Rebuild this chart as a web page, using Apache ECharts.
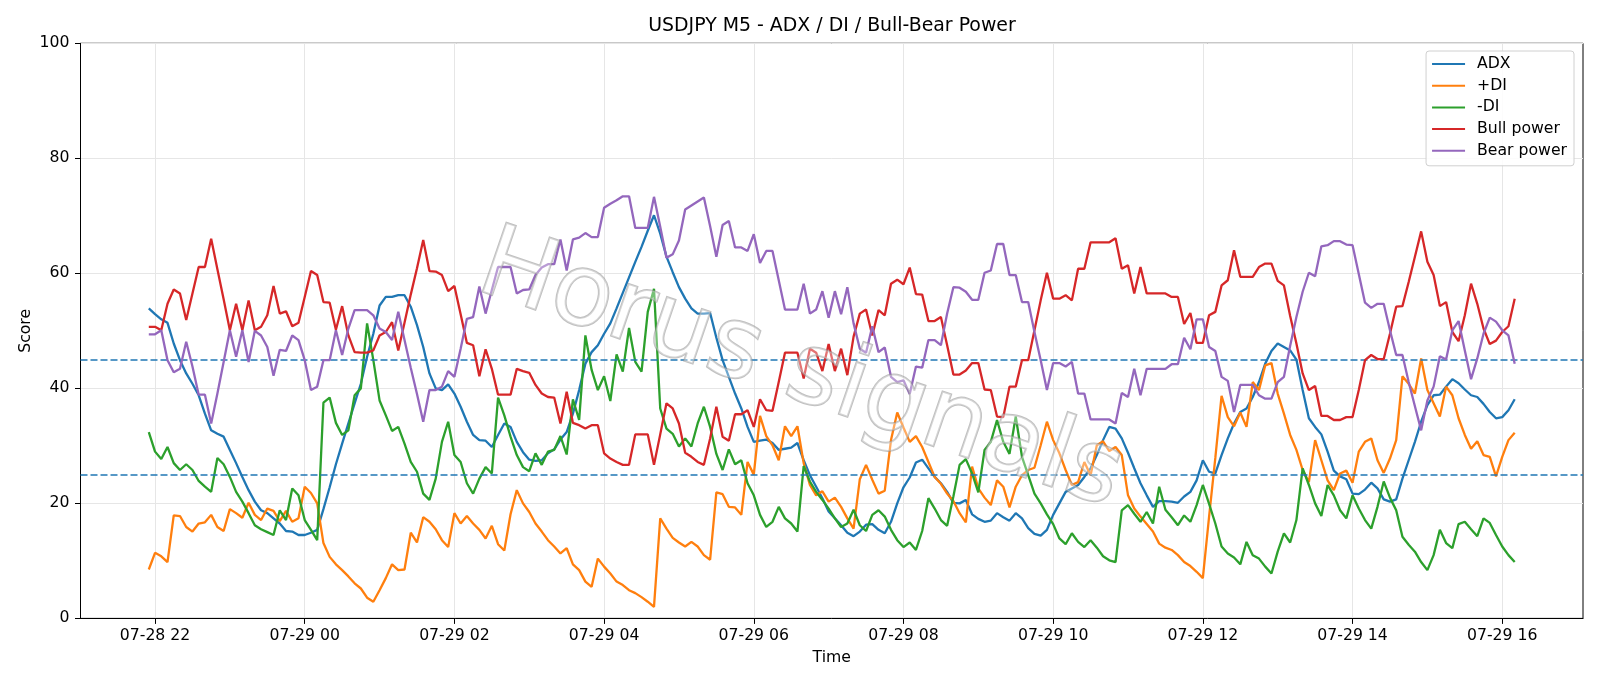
<!DOCTYPE html>
<html>
<head>
<meta charset="utf-8">
<script src="https://cdn.jsdelivr.net/npm/echarts@6/dist/echarts.min.js"></script>
<style>
  html, body { margin: 0; padding: 0; background: #fff; }
  #chart { width: 1600px; height: 686px; }
</style>
</head>
<body>
<div id="chart"></div>
<script>
// bars are M5, index 0 = 07-28 21:55
const seriesNames = ['ADX', '+DI', '-DI', 'Bull power', 'Bear power'];
const seriesColors = ['#1f77b4', '#ff7f0e', '#2ca02c', '#d62728', '#9467bd'];

const adx = [
  53.9, 52.9, 52.0, 51.4, 47.8, 44.9, 42.6, 40.8, 38.8, 35.6,
  32.7, 32.1, 31.6, 29.3, 27.0, 24.6, 22.3, 20.3, 18.8, 18.3,
  17.4, 16.5, 15.2, 15.1, 14.5, 14.5, 14.9, 15.4, 19.0, 22.8,
  26.8, 30.4, 33.9, 37.4, 40.8, 45.5, 49.5, 54.4, 55.9, 55.9,
  56.2, 56.2, 54.2, 51.0, 47.2, 42.6, 40.0, 39.7, 40.7, 39.1,
  36.8, 34.2, 31.9, 31.0, 30.9, 29.8, 31.9, 33.9, 33.3, 30.7,
  28.9, 27.6, 27.4, 27.5, 28.7, 29.4, 31.1, 32.4, 35.6, 39.7,
  44.3, 46.3, 47.5, 49.5, 51.3, 53.9, 56.6, 59.3, 62.0, 64.6,
  67.4, 70.1, 66.9, 62.9, 60.2, 57.6, 55.6, 53.9, 53.0, 53.0,
  53.1, 48.8, 44.9, 42.0, 39.1, 36.5, 33.3, 30.7, 30.9, 31.1,
  30.5, 29.3, 29.5, 29.7, 30.5, 27.5, 24.9, 22.9, 20.9, 18.6,
  17.4, 16.2, 14.9, 14.3, 15.1, 16.3, 16.4, 15.4, 14.8, 16.8,
  20.0, 22.8, 24.5, 27.1, 27.6, 26.1, 24.6, 23.5, 22.0, 20.1,
  20.0, 20.6, 18.1, 17.3, 16.8, 17.0, 18.3, 17.6, 17.0, 18.3,
  17.4, 15.7, 14.7, 14.4, 15.4, 18.0, 20.0, 22.0, 22.6, 23.2,
  24.6, 26.1, 28.4, 31.0, 33.3, 33.0, 31.3, 28.8, 26.1, 23.5,
  21.4, 19.4, 20.4, 20.4, 20.3, 20.1, 21.2, 22.0, 24.0, 27.5,
  25.5, 25.2, 28.4, 31.3, 33.9, 35.9, 36.5, 38.5, 41.1, 44.3,
  46.5, 47.8, 47.2, 46.6, 45.0, 39.7, 34.8, 33.3, 32.0, 29.0,
  25.7, 24.7, 24.2, 21.7, 21.6, 22.4, 23.6, 22.6, 20.7, 20.3,
  20.7, 24.3, 27.5, 30.7, 34.2, 37.1, 38.8, 38.9, 40.3, 41.6,
  40.9, 39.8, 38.8, 38.5, 37.3, 35.9, 34.8, 35.0, 36.2, 38.1
];

const plusDi = [
  8.5, 11.4, 10.8, 9.8, 17.9, 17.8, 15.9, 15.1, 16.5, 16.7,
  18.0, 15.9, 15.2, 19.0, 18.3, 17.5, 20.1, 18.0, 17.1, 19.1,
  18.7, 16.9, 18.7, 16.8, 17.4, 22.9, 21.8, 20.0, 13.1, 10.7,
  9.4, 8.4, 7.3, 6.1, 5.2, 3.6, 2.9, 4.9, 7.0, 9.4,
  8.4, 8.5, 14.9, 13.2, 17.6, 16.8, 15.5, 13.6, 12.4, 18.3,
  16.5, 17.8, 16.5, 15.4, 13.9, 16.1, 12.9, 11.8, 18.1, 22.3,
  20.0, 18.5, 16.5, 15.1, 13.6, 12.5, 11.3, 12.2, 9.4, 8.4,
  6.4, 5.5, 10.4, 9.0, 7.8, 6.4, 5.8, 4.9, 4.4, 3.7,
  2.9, 2.0, 17.4, 15.6, 14.0, 13.2, 12.5, 13.3, 12.5, 11.0,
  10.2, 21.9, 21.6, 19.4, 19.3, 18.0, 27.2, 25.0, 35.2, 31.7,
  30.1, 27.5, 33.4, 31.7, 33.4, 27.0, 23.2, 21.4, 22.1, 20.3,
  21.0, 19.4, 17.4, 15.6, 24.2, 26.7, 24.1, 21.7, 22.2, 31.0,
  35.8, 33.2, 30.7, 31.7, 29.8, 27.2, 24.6, 23.4, 21.7, 20.4,
  18.3, 16.7, 26.4, 22.6, 21.0, 19.7, 24.0, 22.9, 19.3, 22.9,
  24.9, 25.8, 26.2, 30.1, 34.2, 31.0, 28.7, 25.8, 23.2, 23.7,
  27.2, 24.9, 30.1, 30.8, 29.1, 29.8, 28.4, 21.4, 19.1, 17.7,
  16.4, 15.1, 13.0, 12.3, 11.9, 11.0, 9.8, 9.1, 8.1, 7.0,
  17.7, 27.9, 38.7, 35.0, 33.4, 35.8, 33.3, 41.1, 39.7, 44.0,
  44.4, 39.1, 35.6, 31.9, 29.3, 25.8, 23.7, 31.0, 27.5, 24.0,
  22.3, 25.2, 25.7, 23.6, 29.0, 30.7, 31.3, 27.5, 25.3, 27.8,
  31.0, 42.1, 40.8, 39.1, 45.2, 39.7, 37.4, 35.1, 40.3, 38.8,
  34.8, 31.9, 29.5, 30.8, 28.4, 28.1, 24.7, 28.1, 31.0, 32.3
];

const minusDi = [
  32.4, 29.0, 27.7, 29.8, 27.0, 25.8, 26.8, 25.8, 23.9, 22.9,
  22.0, 27.9, 26.8, 24.6, 22.0, 20.3, 18.3, 16.2, 15.5, 15.0,
  14.5, 18.8, 17.1, 22.6, 21.4, 17.1, 15.4, 13.6, 37.5, 38.4,
  34.0, 31.9, 32.7, 38.8, 40.0, 51.3, 44.9, 37.9, 35.3, 32.6,
  33.3, 30.4, 27.2, 25.5, 21.7, 20.6, 24.3, 30.7, 34.2, 28.4,
  27.2, 23.5, 21.7, 24.3, 26.3, 25.2, 38.4, 35.3, 31.6, 28.4,
  26.3, 25.6, 28.7, 26.7, 29.0, 29.3, 31.7, 28.5, 38.1, 34.5,
  49.2, 43.2, 39.7, 42.1, 37.8, 45.9, 42.9, 50.5, 44.6, 42.9,
  53.3, 57.3, 36.5, 33.0, 32.1, 29.9, 31.3, 29.9, 33.9, 36.8,
  33.3, 28.6, 25.8, 29.4, 26.8, 27.5, 23.5, 21.4, 18.0, 15.9,
  16.8, 19.4, 17.4, 16.5, 15.1, 26.5, 23.8, 22.0, 20.6, 19.1,
  17.4, 15.9, 16.5, 18.9, 16.2, 15.2, 18.0, 18.8, 17.7, 15.4,
  13.6, 12.4, 13.2, 11.9, 15.2, 20.9, 19.1, 17.1, 16.1, 21.2,
  26.7, 27.7, 25.2, 21.9, 29.3, 30.7, 34.5, 30.7, 28.6, 35.1,
  28.1, 24.9, 21.7, 20.0, 18.1, 16.4, 13.9, 12.9, 14.8, 13.3,
  12.4, 13.6, 12.3, 10.8, 10.1, 9.8, 18.8, 19.7, 18.2, 16.8,
  18.5, 16.5, 22.9, 18.9, 17.6, 16.2, 17.9, 16.8, 19.7, 23.2,
  19.9, 16.5, 12.5, 11.3, 10.6, 9.4, 13.3, 11.0, 10.4, 9.0,
  7.8, 11.6, 14.8, 13.2, 17.1, 26.1, 23.2, 20.0, 17.8, 23.2,
  21.4, 18.8, 17.4, 21.4, 19.1, 17.1, 15.6, 19.4, 23.8, 21.0,
  18.8, 14.2, 12.8, 11.6, 9.8, 8.4, 11.0, 15.4, 13.1, 12.2,
  16.4, 16.8, 15.5, 14.3, 17.4, 16.6, 14.5, 12.5, 11.0, 9.8
];

const bullPower = [
  50.7, 50.7, 50.1, 54.7, 57.2, 56.5, 51.9, 56.5, 61.1, 61.1,
  66.0, 60.7, 55.5, 50.1, 54.7, 50.1, 55.3, 50.1, 50.7, 52.7,
  57.8, 53.0, 53.4, 50.8, 51.4, 55.9, 60.4, 59.7, 55.0, 54.9,
  50.2, 54.3, 49.2, 46.3, 46.2, 46.2, 46.6, 49.2, 49.8, 51.5,
  46.6, 51.4, 56.3, 60.9, 65.8, 60.4, 60.3, 59.7, 56.9, 57.8,
  52.9, 47.9, 47.5, 42.1, 46.8, 43.4, 38.9, 38.9, 38.9, 43.4,
  43.0, 42.7, 40.6, 39.1, 38.5, 38.4, 33.9, 39.4, 34.0, 33.6,
  33.0, 33.6, 33.6, 28.7, 27.8, 27.2, 26.7, 26.7, 32.0, 32.0,
  32.0, 26.7, 32.0, 37.4, 36.5, 33.9, 28.8, 28.1, 27.2, 26.7,
  31.3, 36.8, 31.6, 30.9, 35.5, 35.5, 36.2, 33.3, 38.1, 36.2,
  36.1, 41.1, 46.2, 46.2, 46.2, 41.7, 46.9, 46.2, 43.0, 47.7,
  43.0, 46.9, 42.3, 49.0, 53.0, 53.7, 49.2, 53.6, 52.7, 58.2,
  58.9, 58.1, 61.0, 56.4, 56.3, 51.7, 51.7, 52.4, 47.5, 42.4,
  42.4, 43.1, 44.4, 44.4, 39.8, 39.7, 35.1, 35.0, 40.3, 40.3,
  44.9, 44.9, 50.1, 55.3, 60.1, 55.6, 55.6, 56.2, 55.3, 60.8,
  60.8, 65.4, 65.4, 65.4, 65.4, 66.1, 60.8, 61.4, 56.5, 61.1,
  56.5, 56.5, 56.5, 56.5, 55.9, 55.9, 51.2, 53.1, 47.9, 47.9,
  52.7, 53.3, 57.9, 58.8, 64.0, 59.4, 59.4, 59.4, 61.1, 61.7,
  61.7, 58.7, 57.9, 52.6, 47.8, 42.6, 39.7, 40.4, 35.2, 35.2,
  34.5, 34.5, 35.0, 35.0, 39.7, 44.9, 45.8, 45.1, 45.1, 49.5,
  54.2, 54.3, 58.5, 62.9, 67.3, 62.0, 59.7, 54.3, 55.0, 49.8,
  48.2, 52.7, 58.2, 54.7, 50.4, 47.7, 48.3, 49.8, 50.8, 55.6
];

const bearPower = [
  49.4, 49.4, 50.1, 44.9, 42.8, 43.4, 48.1, 43.8, 38.9, 38.9,
  33.9, 39.1, 44.6, 50.1, 45.5, 50.1, 44.6, 50.0, 49.2, 47.2,
  42.2, 46.7, 46.5, 49.2, 48.4, 44.9, 39.7, 40.3, 44.9, 44.9,
  50.1, 45.8, 50.4, 53.6, 53.6, 53.6, 52.7, 50.4, 49.8, 48.4,
  53.3, 48.4, 43.6, 39.0, 34.2, 39.7, 39.7, 40.3, 43.0, 42.0,
  46.9, 52.1, 52.4, 57.7, 53.0, 57.1, 61.1, 61.1, 61.1, 56.5,
  57.1, 57.2, 59.7, 61.0, 61.6, 61.6, 65.9, 60.5, 65.9, 66.2,
  67.0, 66.3, 66.3, 71.4, 72.1, 72.7, 73.4, 73.4, 67.9, 67.9,
  67.9, 73.3, 68.1, 62.7, 63.3, 65.7, 71.1, 71.8, 72.5, 73.2,
  68.2, 62.9, 68.4, 69.1, 64.5, 64.5, 63.9, 66.8, 61.8, 63.9,
  63.9, 58.8, 53.7, 53.7, 53.7, 58.2, 53.0, 53.7, 56.9, 52.3,
  56.9, 52.9, 57.6, 51.3, 46.9, 46.2, 50.8, 46.3, 47.1, 42.0,
  41.1, 41.4, 39.0, 43.8, 43.6, 48.4, 48.4, 47.5, 53.0, 57.6,
  57.5, 56.8, 55.4, 55.4, 60.1, 60.5, 65.1, 65.1, 59.7, 59.7,
  55.0, 55.0, 49.8, 44.9, 39.7, 44.4, 44.4, 43.8, 44.6, 39.1,
  39.1, 34.6, 34.6, 34.6, 34.6, 33.9, 39.2, 38.5, 43.4, 38.8,
  43.4, 43.4, 43.4, 43.4, 44.2, 44.2, 48.8, 46.8, 52.0, 52.0,
  47.2, 46.5, 42.0, 41.3, 35.9, 40.6, 40.6, 40.6, 38.8, 38.2,
  38.2, 41.1, 42.0, 47.4, 52.4, 56.8, 60.1, 59.5, 64.7, 64.9,
  65.6, 65.6, 65.0, 64.9, 59.9, 54.9, 54.0, 54.7, 54.7, 50.1,
  45.8, 45.8, 41.1, 36.9, 32.7, 37.9, 40.3, 45.6, 45.0, 50.1,
  51.7, 46.6, 41.6, 45.2, 49.5, 52.3, 51.6, 50.1, 49.2, 44.3
];

// x ticks every 2h (24 bars), first at 07-28 22:00 = bar 1
const tickIndex = [1, 25, 49, 73, 97, 121, 145, 169, 193, 217];
const tickLabels = ['07-28 22', '07-29 00', '07-29 02', '07-29 04', '07-29 06',
                    '07-29 08', '07-29 10', '07-29 12', '07-29 14', '07-29 16'];
const thresholds = [45, 25];

const FONT = 'DejaVu Sans';
const FS = 15.7;
const values = [adx, plusDi, minusDi, bullPower, bearPower];
const nBars = adx.length;
const pad = (nBars - 1) * 0.05; // matplotlib default margins

const chart = echarts.init(document.getElementById('chart'), null, { renderer: 'canvas' });

const series = values.map((arr, k) => ({
  name: seriesNames[k],
  type: 'line',
  symbol: 'none',
  showSymbol: false,
  data: arr.map((v, i) => [i, v]),
  lineStyle: { width: 2.3, color: seriesColors[k] },
  itemStyle: { color: seriesColors[k] },
  z: 2 + k
}));

// dashed threshold lines
series[0].markLine = {
  silent: true,
  symbol: 'none',
  label: { show: false },
  lineStyle: { color: '#1f77b4', type: [7, 3], width: 1.5 },
  data: thresholds.map(t => ({ yAxis: t }))
};

chart.setOption({
  animation: false,
  backgroundColor: '#fff',
  textStyle: { fontFamily: FONT },
  grid: {
    left: 80.5, right: 17, top: 43.3, bottom: 67.6,
    show: true, borderColor: '#000', borderWidth: 1, backgroundColor: 'transparent'
  },
  legend: {
    orient: 'vertical',
    right: 26, top: 51,
    padding: [5, 7, 7, 5],
    itemWidth: 33, itemHeight: 16, itemGap: 5.7,
    itemStyle: { opacity: 0 },
    backgroundColor: 'rgba(255,255,255,0.85)',
    borderColor: '#d0d0d0', borderWidth: 1, borderRadius: 3,
    textStyle: { fontFamily: FONT, fontSize: FS, lineHeight: 16, color: '#000', padding: [0, 0, 0, 7] },
    data: seriesNames
  },
  xAxis: {
    type: 'value',
    min: -pad, max: nBars - 1 + pad,
    name: 'Time', nameLocation: 'middle', nameGap: 32,
    nameTextStyle: { fontFamily: FONT, fontSize: FS, color: '#000' },
    axisLine: { show: true, onZero: false, lineStyle: { color: '#000', width: 1 } },
    axisTick: { show: true, length: 5.5, customValues: tickIndex, lineStyle: { color: '#000' } },
    axisLabel: {
      customValues: tickIndex,
      margin: 10,
      fontFamily: FONT, fontSize: FS, color: '#000',
      formatter: v => tickLabels[tickIndex.indexOf(Math.round(v))] || ''
    },
    splitLine: { show: true, lineStyle: { color: '#e6e6e6', width: 1 } }
  },
  yAxis: {
    type: 'value', min: 0, max: 100, interval: 20,
    name: 'Score', nameLocation: 'middle', nameGap: 47, nameRotate: 90,
    nameMoveOverlap: false,
    nameTextStyle: { fontFamily: FONT, fontSize: FS, color: '#000' },
    axisLine: { show: true, onZero: false, lineStyle: { color: '#000', width: 1 } },
    axisTick: { show: true, length: 5.5, lineStyle: { color: '#000' } },
    axisLabel: { margin: 11, fontFamily: FONT, fontSize: FS, color: '#000' },
    splitLine: { show: true, lineStyle: { color: '#e6e6e6', width: 1 } }
  },
  graphic: [
    {
      type: 'text', x: 832, y: 26, z: 10,
      style: {
        text: 'USDJPY M5 - ADX / DI / Bull-Bear Power',
        font: '18.9px "DejaVu Sans"', fill: '#000',
        align: 'center', verticalAlign: 'middle'
      }
    },
    {
      type: 'text', x: 800, y: 373, rotation: -0.33, z: 100, silent: true,
      style: {
        text: 'Horus signals',
        font: '100px "DejaVu Sans"',
        fill: 'rgba(255,255,255,0.35)',
        stroke: 'rgba(150,150,150,0.6)', lineWidth: 2,
        align: 'center', verticalAlign: 'middle'
      }
    }
  ],
  series: series
});
</script>
</body>
</html>
